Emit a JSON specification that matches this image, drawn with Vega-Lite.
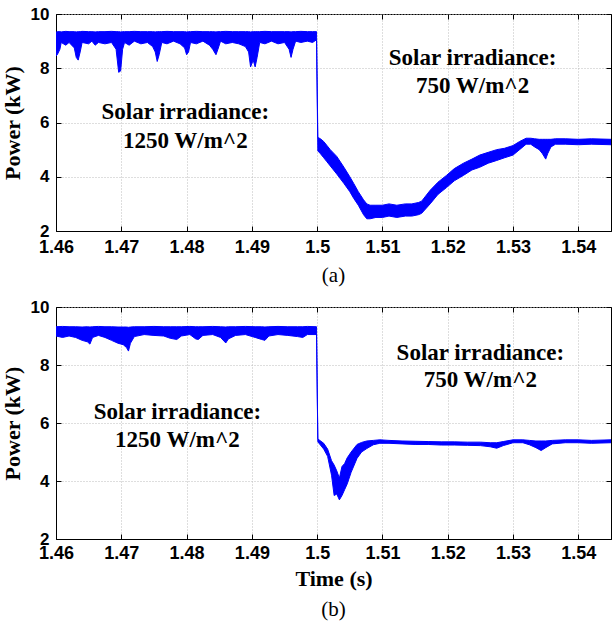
{
  "$schema": "https://vega.github.io/schema/vega-lite/v6.json",
  "background": "white",
  "padding": {"left": 0, "top": 4, "right": 3, "bottom": 5},
  "spacing": 10,
  "config": {
    "view": {"stroke": "black", "strokeWidth": 1},
    "axis": {
      "domainColor": "black",
      "tickColor": "black",
      "labelColor": "black",
      "titleColor": "black",
      "labelFont": "Liberation Sans",
      "labelFontWeight": "bold",
      "labelFontSize": 18,
      "titleFont": "Liberation Serif",
      "titleFontWeight": "bold",
      "titleFontSize": 22,
      "gridColor": "#bdbdbd",
      "gridDash": [1, 2],
      "gridWidth": 1
    },
    "title": {"font": "Liberation Serif", "fontWeight": "normal", "fontSize": 21, "color": "black"}
  },
  "datasets": {
    "a": [
      {"t": 1.4600, "hi": 9.33, "lo": 8.45}, {"t": 1.4602, "hi": 9.35, "lo": 8.5}, {"t": 1.4606, "hi": 9.35, "lo": 8.7},
      {"t": 1.4608, "hi": 9.34, "lo": 8.95}, {"t": 1.4615, "hi": 9.36, "lo": 8.85}, {"t": 1.4620, "hi": 9.35, "lo": 8.95},
      {"t": 1.4628, "hi": 9.35, "lo": 8.75}, {"t": 1.4631, "hi": 9.34, "lo": 8.4}, {"t": 1.4634, "hi": 9.35, "lo": 8.3},
      {"t": 1.4637, "hi": 9.35, "lo": 8.6}, {"t": 1.4640, "hi": 9.36, "lo": 8.95}, {"t": 1.4650, "hi": 9.35, "lo": 8.9},
      {"t": 1.4655, "hi": 9.35, "lo": 9.0}, {"t": 1.4660, "hi": 9.34, "lo": 8.85}, {"t": 1.4665, "hi": 9.35, "lo": 8.95},
      {"t": 1.4675, "hi": 9.35, "lo": 8.9}, {"t": 1.4685, "hi": 9.36, "lo": 8.95}, {"t": 1.4692, "hi": 9.35, "lo": 8.7},
      {"t": 1.4696, "hi": 9.35, "lo": 7.85}, {"t": 1.4699, "hi": 9.34, "lo": 7.9}, {"t": 1.4702, "hi": 9.35, "lo": 8.7},
      {"t": 1.4705, "hi": 9.35, "lo": 8.95}, {"t": 1.4712, "hi": 9.35, "lo": 8.85}, {"t": 1.4720, "hi": 9.36, "lo": 9.0},
      {"t": 1.4730, "hi": 9.35, "lo": 8.9}, {"t": 1.4740, "hi": 9.35, "lo": 8.95}, {"t": 1.4748, "hi": 9.35, "lo": 8.8},
      {"t": 1.4752, "hi": 9.34, "lo": 8.6}, {"t": 1.4755, "hi": 9.35, "lo": 8.25}, {"t": 1.4758, "hi": 9.35, "lo": 8.5},
      {"t": 1.4762, "hi": 9.35, "lo": 8.95}, {"t": 1.4770, "hi": 9.36, "lo": 8.9}, {"t": 1.4780, "hi": 9.35, "lo": 9.0},
      {"t": 1.4790, "hi": 9.35, "lo": 8.9}, {"t": 1.4797, "hi": 9.35, "lo": 8.75}, {"t": 1.4800, "hi": 9.34, "lo": 8.5},
      {"t": 1.4803, "hi": 9.35, "lo": 8.6}, {"t": 1.4806, "hi": 9.35, "lo": 8.95}, {"t": 1.4815, "hi": 9.36, "lo": 8.9},
      {"t": 1.4825, "hi": 9.35, "lo": 9.0}, {"t": 1.4835, "hi": 9.35, "lo": 8.85}, {"t": 1.4840, "hi": 9.35, "lo": 8.7},
      {"t": 1.4845, "hi": 9.34, "lo": 8.5}, {"t": 1.4848, "hi": 9.35, "lo": 8.7}, {"t": 1.4852, "hi": 9.35, "lo": 9.0},
      {"t": 1.4860, "hi": 9.36, "lo": 8.9}, {"t": 1.4870, "hi": 9.35, "lo": 8.95}, {"t": 1.4880, "hi": 9.35, "lo": 8.9},
      {"t": 1.4890, "hi": 9.35, "lo": 8.8}, {"t": 1.4895, "hi": 9.35, "lo": 8.6}, {"t": 1.4898, "hi": 9.34, "lo": 8.05},
      {"t": 1.4902, "hi": 9.35, "lo": 8.3}, {"t": 1.4905, "hi": 9.35, "lo": 8.05}, {"t": 1.4908, "hi": 9.35, "lo": 8.4},
      {"t": 1.4912, "hi": 9.35, "lo": 8.95}, {"t": 1.4920, "hi": 9.36, "lo": 8.9}, {"t": 1.4930, "hi": 9.35, "lo": 9.0},
      {"t": 1.4940, "hi": 9.35, "lo": 8.9}, {"t": 1.4950, "hi": 9.35, "lo": 8.95}, {"t": 1.4957, "hi": 9.35, "lo": 8.7},
      {"t": 1.4960, "hi": 9.34, "lo": 8.4}, {"t": 1.4963, "hi": 9.35, "lo": 8.7}, {"t": 1.4967, "hi": 9.35, "lo": 9.0},
      {"t": 1.4975, "hi": 9.36, "lo": 8.95}, {"t": 1.4985, "hi": 9.35, "lo": 9.0}, {"t": 1.4993, "hi": 9.35, "lo": 8.95},
      {"t": 1.4999, "hi": 9.35, "lo": 9.05},
      {"t": 1.5001, "hi": 5.45, "lo": 4.95}, {"t": 1.5005, "hi": 5.4, "lo": 4.85}, {"t": 1.5010, "hi": 5.3, "lo": 4.7},
      {"t": 1.5015, "hi": 5.15, "lo": 4.55}, {"t": 1.5020, "hi": 5.0, "lo": 4.4}, {"t": 1.5030, "hi": 4.75, "lo": 4.1},
      {"t": 1.5041, "hi": 4.35, "lo": 3.75}, {"t": 1.5050, "hi": 4.0, "lo": 3.45}, {"t": 1.5056, "hi": 3.75, "lo": 3.2},
      {"t": 1.5063, "hi": 3.45, "lo": 2.95}, {"t": 1.5071, "hi": 3.15, "lo": 2.6}, {"t": 1.5076, "hi": 3.0, "lo": 2.45},
      {"t": 1.5081, "hi": 2.95, "lo": 2.45}, {"t": 1.5090, "hi": 2.95, "lo": 2.5}, {"t": 1.5100, "hi": 2.95, "lo": 2.5},
      {"t": 1.5110, "hi": 3.0, "lo": 2.55}, {"t": 1.5122, "hi": 2.95, "lo": 2.5}, {"t": 1.5135, "hi": 3.0, "lo": 2.55},
      {"t": 1.5145, "hi": 3.0, "lo": 2.55}, {"t": 1.5155, "hi": 3.05, "lo": 2.6}, {"t": 1.5160, "hi": 3.1, "lo": 2.65},
      {"t": 1.5173, "hi": 3.5, "lo": 3.0}, {"t": 1.5185, "hi": 3.8, "lo": 3.35}, {"t": 1.5198, "hi": 4.05, "lo": 3.6},
      {"t": 1.5210, "hi": 4.3, "lo": 3.85}, {"t": 1.5224, "hi": 4.5, "lo": 4.05}, {"t": 1.5237, "hi": 4.65, "lo": 4.25},
      {"t": 1.5249, "hi": 4.8, "lo": 4.35}, {"t": 1.5262, "hi": 4.9, "lo": 4.5}, {"t": 1.5275, "hi": 5.0, "lo": 4.6},
      {"t": 1.5287, "hi": 5.05, "lo": 4.7}, {"t": 1.5300, "hi": 5.15, "lo": 4.8}, {"t": 1.5310, "hi": 5.3, "lo": 5.0},
      {"t": 1.5320, "hi": 5.42, "lo": 5.2}, {"t": 1.5327, "hi": 5.42, "lo": 5.2}, {"t": 1.5333, "hi": 5.4, "lo": 5.1},
      {"t": 1.5340, "hi": 5.38, "lo": 5.0}, {"t": 1.5345, "hi": 5.38, "lo": 4.85}, {"t": 1.5350, "hi": 5.38, "lo": 4.65},
      {"t": 1.5353, "hi": 5.38, "lo": 4.85}, {"t": 1.5358, "hi": 5.38, "lo": 5.1}, {"t": 1.5365, "hi": 5.4, "lo": 5.2},
      {"t": 1.5380, "hi": 5.4, "lo": 5.2}, {"t": 1.5400, "hi": 5.38, "lo": 5.18}, {"t": 1.5420, "hi": 5.4, "lo": 5.2},
      {"t": 1.5450, "hi": 5.38, "lo": 5.18}
    ],
    "b": [
      {"t": 1.4600, "hi": 9.32, "lo": 9.0}, {"t": 1.4610, "hi": 9.33, "lo": 8.95}, {"t": 1.4620, "hi": 9.32, "lo": 9.0},
      {"t": 1.4630, "hi": 9.32, "lo": 8.95}, {"t": 1.4640, "hi": 9.31, "lo": 8.85}, {"t": 1.4648, "hi": 9.32, "lo": 8.8},
      {"t": 1.4652, "hi": 9.31, "lo": 8.72}, {"t": 1.4656, "hi": 9.32, "lo": 8.95}, {"t": 1.4665, "hi": 9.33, "lo": 9.02},
      {"t": 1.4675, "hi": 9.32, "lo": 8.95}, {"t": 1.4685, "hi": 9.32, "lo": 8.85}, {"t": 1.4695, "hi": 9.31, "lo": 8.75},
      {"t": 1.4703, "hi": 9.31, "lo": 8.7}, {"t": 1.4708, "hi": 9.31, "lo": 8.6}, {"t": 1.4711, "hi": 9.3, "lo": 8.48},
      {"t": 1.4714, "hi": 9.31, "lo": 8.75}, {"t": 1.4720, "hi": 9.32, "lo": 8.98}, {"t": 1.4735, "hi": 9.32, "lo": 9.05},
      {"t": 1.4750, "hi": 9.33, "lo": 9.02}, {"t": 1.4765, "hi": 9.32, "lo": 9.0}, {"t": 1.4775, "hi": 9.32, "lo": 8.92},
      {"t": 1.4785, "hi": 9.32, "lo": 8.88}, {"t": 1.4792, "hi": 9.32, "lo": 9.0}, {"t": 1.4805, "hi": 9.33, "lo": 9.05},
      {"t": 1.4814, "hi": 9.32, "lo": 8.9}, {"t": 1.4818, "hi": 9.32, "lo": 8.88}, {"t": 1.4825, "hi": 9.32, "lo": 9.02},
      {"t": 1.4840, "hi": 9.33, "lo": 9.05}, {"t": 1.4852, "hi": 9.32, "lo": 8.95}, {"t": 1.4860, "hi": 9.31, "lo": 8.76},
      {"t": 1.4864, "hi": 9.32, "lo": 8.9}, {"t": 1.4875, "hi": 9.32, "lo": 9.02}, {"t": 1.4890, "hi": 9.33, "lo": 9.05},
      {"t": 1.4905, "hi": 9.32, "lo": 8.95}, {"t": 1.4915, "hi": 9.32, "lo": 8.88}, {"t": 1.4920, "hi": 9.31, "lo": 8.85},
      {"t": 1.4926, "hi": 9.32, "lo": 9.0}, {"t": 1.4940, "hi": 9.33, "lo": 9.05}, {"t": 1.4955, "hi": 9.32, "lo": 9.02},
      {"t": 1.4970, "hi": 9.32, "lo": 8.98}, {"t": 1.4978, "hi": 9.32, "lo": 8.95}, {"t": 1.4985, "hi": 9.33, "lo": 9.05},
      {"t": 1.4999, "hi": 9.32, "lo": 9.05},
      {"t": 1.5001, "hi": 5.45, "lo": 5.35}, {"t": 1.5010, "hi": 5.3, "lo": 5.1}, {"t": 1.5016, "hi": 5.1, "lo": 4.85},
      {"t": 1.5022, "hi": 4.7, "lo": 4.2}, {"t": 1.5026, "hi": 4.55, "lo": 3.5}, {"t": 1.5030, "hi": 4.35, "lo": 3.55},
      {"t": 1.5034, "hi": 4.1, "lo": 3.35}, {"t": 1.5038, "hi": 4.5, "lo": 3.5}, {"t": 1.5042, "hi": 4.6, "lo": 3.7},
      {"t": 1.5046, "hi": 4.8, "lo": 3.9}, {"t": 1.5052, "hi": 5.0, "lo": 4.3}, {"t": 1.5061, "hi": 5.26, "lo": 4.78},
      {"t": 1.5068, "hi": 5.33, "lo": 5.0}, {"t": 1.5076, "hi": 5.38, "lo": 5.12}, {"t": 1.5086, "hi": 5.4, "lo": 5.25},
      {"t": 1.5096, "hi": 5.42, "lo": 5.3}, {"t": 1.5110, "hi": 5.4, "lo": 5.3}, {"t": 1.5130, "hi": 5.38, "lo": 5.28},
      {"t": 1.5150, "hi": 5.37, "lo": 5.26}, {"t": 1.5170, "hi": 5.36, "lo": 5.26}, {"t": 1.5190, "hi": 5.35, "lo": 5.24},
      {"t": 1.5210, "hi": 5.35, "lo": 5.24}, {"t": 1.5230, "hi": 5.34, "lo": 5.23}, {"t": 1.5250, "hi": 5.34, "lo": 5.22},
      {"t": 1.5265, "hi": 5.32, "lo": 5.18}, {"t": 1.5275, "hi": 5.32, "lo": 5.13}, {"t": 1.5285, "hi": 5.36, "lo": 5.22},
      {"t": 1.5300, "hi": 5.42, "lo": 5.32}, {"t": 1.5315, "hi": 5.42, "lo": 5.32}, {"t": 1.5325, "hi": 5.4, "lo": 5.25},
      {"t": 1.5335, "hi": 5.38, "lo": 5.15}, {"t": 1.5343, "hi": 5.38, "lo": 5.05}, {"t": 1.5350, "hi": 5.38, "lo": 5.15},
      {"t": 1.5360, "hi": 5.4, "lo": 5.28}, {"t": 1.5380, "hi": 5.42, "lo": 5.32}, {"t": 1.5400, "hi": 5.42, "lo": 5.32},
      {"t": 1.5420, "hi": 5.4, "lo": 5.3}, {"t": 1.5450, "hi": 5.42, "lo": 5.32}
    ],
    "notes": [
      {"panel": "a", "t": 1.4798, "p": 6.38, "label": "Solar irradiance:"},
      {"panel": "a", "t": 1.4798, "p": 5.31, "label": "1250 W/m^2"},
      {"panel": "a", "t": 1.5238, "p": 8.38, "label": "Solar irradiance:"},
      {"panel": "a", "t": 1.5238, "p": 7.34, "label": "750 W/m^2"},
      {"panel": "b", "t": 1.4786, "p": 6.39, "label": "Solar irradiance:"},
      {"panel": "b", "t": 1.4786, "p": 5.43, "label": "1250 W/m^2"},
      {"panel": "b", "t": 1.525, "p": 8.40, "label": "Solar irradiance:"},
      {"panel": "b", "t": 1.525, "p": 7.48, "label": "750 W/m^2"}
    ]
  },
  "vconcat": [
    {
      "width": 555,
      "height": 217,
      "title": {"text": "(a)", "orient": "bottom", "offset": 9},
      "layer": [
        {
          "data": {"name": "a"},
          "mark": {"type": "area", "color": "#0000ff", "stroke": "#0000ff", "strokeWidth": 1, "clip": true},
          "encoding": {
            "x": {"field": "t", "type": "quantitative", "scale": {"domain": [1.46, 1.545], "nice": false, "zero": false},
              "axis": {"orient": "bottom", "title": null, "values": [1.46, 1.47, 1.48, 1.49, 1.5, 1.51, 1.52, 1.53, 1.54], "format": ".2~f", "grid": true, "tickSize": -5, "labelPadding": 12, "labelFlush": false}},
            "y": {"field": "hi", "type": "quantitative", "scale": {"domain": [2, 10], "nice": false, "zero": false},
              "axis": {"orient": "left", "title": "Power (kW)", "values": [2, 4, 6, 8, 10], "grid": true, "tickSize": -5, "labelPadding": 12, "labelFontSize": 17, "titlePadding": 6, "labelFlush": false}},
            "y2": {"field": "lo"}
          }
        },
        {
          "data": {"name": "notes"},
          "transform": [{"filter": "datum.panel == 'a'"}],
          "mark": {"type": "text", "font": "Liberation Serif", "fontWeight": "bold", "fontSize": 23, "baseline": "middle", "align": "center", "color": "black"},
          "encoding": {
            "x": {"field": "t", "type": "quantitative", "axis": {"orient": "top", "title": null, "labels": false, "grid": false, "domain": false, "tickSize": -5, "values": [1.46, 1.47, 1.48, 1.49, 1.5, 1.51, 1.52, 1.53, 1.54]}},
            "y": {"field": "p", "type": "quantitative", "axis": {"orient": "right", "title": null, "labels": false, "grid": false, "domain": false, "tickSize": -5, "values": [2, 4, 6, 8, 10]}},
            "text": {"field": "label"}
          }
        }
      ],
      "resolve": {"axis": {"x": "independent", "y": "independent"}}
    },
    {
      "width": 555,
      "height": 232,
      "title": {"text": "(b)", "orient": "bottom", "offset": 10},
      "layer": [
        {
          "data": {"name": "b"},
          "mark": {"type": "area", "color": "#0000ff", "stroke": "#0000ff", "strokeWidth": 1, "clip": true},
          "encoding": {
            "x": {"field": "t", "type": "quantitative", "scale": {"domain": [1.46, 1.545], "nice": false, "zero": false},
              "axis": {"orient": "bottom", "title": "Time (s)", "values": [1.46, 1.47, 1.48, 1.49, 1.5, 1.51, 1.52, 1.53, 1.54], "format": ".2~f", "grid": true, "tickSize": -5, "labelPadding": 10, "titlePadding": 6, "labelFlush": false}},
            "y": {"field": "hi", "type": "quantitative", "scale": {"domain": [2, 10], "nice": false, "zero": false},
              "axis": {"orient": "left", "title": "Power (kW)", "values": [2, 4, 6, 8, 10], "grid": true, "tickSize": -5, "labelPadding": 12, "labelFontSize": 17, "titlePadding": 6, "labelFlush": false}},
            "y2": {"field": "lo"}
          }
        },
        {
          "data": {"name": "notes"},
          "transform": [{"filter": "datum.panel == 'b'"}],
          "mark": {"type": "text", "font": "Liberation Serif", "fontWeight": "bold", "fontSize": 23, "baseline": "middle", "align": "center", "color": "black"},
          "encoding": {
            "x": {"field": "t", "type": "quantitative", "axis": {"orient": "top", "title": null, "labels": false, "grid": false, "domain": false, "tickSize": -5, "values": [1.46, 1.47, 1.48, 1.49, 1.5, 1.51, 1.52, 1.53, 1.54]}},
            "y": {"field": "p", "type": "quantitative", "axis": {"orient": "right", "title": null, "labels": false, "grid": false, "domain": false, "tickSize": -5, "values": [2, 4, 6, 8, 10]}},
            "text": {"field": "label"}
          }
        }
      ],
      "resolve": {"axis": {"x": "independent", "y": "independent"}}
    }
  ]
}
